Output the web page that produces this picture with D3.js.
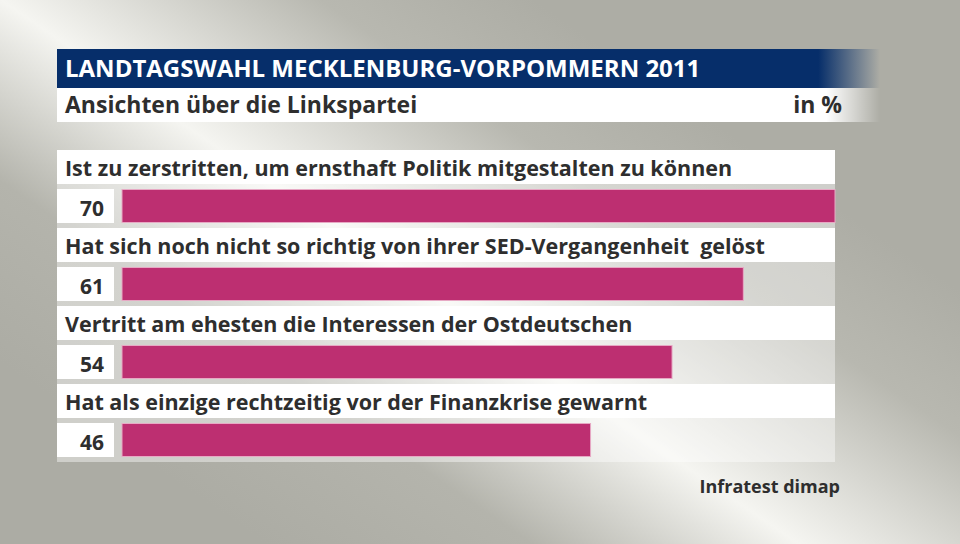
<!DOCTYPE html>
<html>
<head>
<meta charset="utf-8">
<script src="https://cdn.jsdelivr.net/npm/d3@7"></script>
<style>
  body { margin: 0; }
  svg { display: block; }
  text { font-family: "Open Sans", Lato, sans-serif; font-weight: 700; white-space: pre; }
</style>
</head>
<body>
<div id="chart"></div>
<script>
// chart data
var title = "LANDTAGSWAHL MECKLENBURG-VORPOMMERN 2011";
var subtitle = "Ansichten über die Linkspartei";
var unit = "in %";
var source = "Infratest dimap";
var categories = [
  "Ist zu zerstritten, um ernsthaft Politik mitgestalten zu können",
  "Hat sich noch nicht so richtig von ihrer SED-Vergangenheit  gelöst",
  "Vertritt am ehesten die Interessen der Ostdeutschen",
  "Hat als einzige rechtzeitig vor der Finanzkrise gewarnt"
];
var values = [70, 61, 54, 46];

var width = 960, height = 544;

var svg = d3.select("#chart")
  .append("svg")
  .attr("width", width)
  .attr("height", height);

var defs = svg.append("defs");

// background: light diagonal band, grey towards top-right and bottom-left
var bg = defs.append("linearGradient")
  .attr("id", "bg")
  .attr("gradientUnits", "userSpaceOnUse")
  .attr("x1", 231).attr("y1", 520)
  .attr("x2", 569).attr("y2", 24);
[[0, "#acaca4"], [0.25, "#b4b4ac"], [0.5, "#f5f5f1"], [0.8, "#b8b8b0"], [1, "#adada5"]]
  .forEach(function (s) {
    bg.append("stop").attr("offset", s[0]).attr("stop-color", s[1]);
  });

// fading header bars
function fade(id, color, start) {
  var g = defs.append("linearGradient").attr("id", id);
  g.append("stop").attr("offset", 0).attr("stop-color", color);
  g.append("stop").attr("offset", start).attr("stop-color", color);
  g.append("stop").attr("offset", 1).attr("stop-color", color).attr("stop-opacity", 0);
}
fade("titleFade", "#062e6a", 0.925);
fade("subFade", "#ffffff", 0.935);

svg.append("rect")
  .attr("width", width)
  .attr("height", height)
  .attr("fill", "url(#bg)");

// header
svg.append("rect")
  .attr("x", 57).attr("y", 49)
  .attr("width", 823).attr("height", 39)
  .attr("fill", "url(#titleFade)");
svg.append("rect")
  .attr("x", 57).attr("y", 88)
  .attr("width", 823).attr("height", 34)
  .attr("fill", "url(#subFade)");

svg.append("text")
  .attr("x", 65).attr("y", 77)
  .attr("font-size", 24)
  .attr("fill", "#ffffff")
  .text(title);
svg.append("text")
  .attr("x", 65).attr("y", 113)
  .attr("font-size", 23)
  .attr("fill", "#2e2e2e")
  .text(subtitle);
svg.append("text")
  .attr("x", 842).attr("y", 113)
  .attr("text-anchor", "end")
  .attr("font-size", 23)
  .attr("fill", "#2e2e2e")
  .text(unit);

// scales
var x = d3.scaleLinear().domain([0, 70]).range([122, 835]);
var y = d3.scaleBand().domain(categories).range([150, 462]);

var rows = svg.selectAll(".row")
  .data(categories.map(function (c, i) { return { label: c, value: values[i] }; }))
  .enter()
  .append("g")
  .attr("class", "row")
  .attr("transform", function (d) { return "translate(0," + y(d.label) + ")"; });

// light backing behind the value line
rows.append("rect")
  .attr("x", 57).attr("y", 34)
  .attr("width", 778).attr("height", 44)
  .attr("fill", "#ffffff")
  .attr("fill-opacity", 0.42);

// label strip
rows.append("rect")
  .attr("x", 57).attr("y", 0)
  .attr("width", 778).attr("height", 34)
  .attr("fill", "#ffffff");

rows.append("text")
  .attr("x", 65).attr("y", 26)
  .attr("font-size", 21.5)
  .attr("fill", "#2e2e2e")
  .text(function (d) { return d.label; });

// value box
rows.append("rect")
  .attr("x", 57).attr("y", 39)
  .attr("width", 57).attr("height", 34)
  .attr("fill", "#ffffff");

rows.append("text")
  .attr("x", 104).attr("y", 66)
  .attr("text-anchor", "end")
  .attr("font-size", 21)
  .attr("fill", "#2e2e2e")
  .text(function (d) { return d.value; });

// bars
rows.append("rect")
  .attr("x", x(0))
  .attr("y", 39.5)
  .attr("width", function (d) { return x(d.value) - x(0); })
  .attr("height", 33)
  .attr("fill", "#bd2f71")
  .attr("stroke", "#e7a9c4")
  .attr("stroke-width", 1);

svg.append("text")
  .attr("x", 840).attr("y", 493)
  .attr("text-anchor", "end")
  .attr("font-size", 18)
  .attr("fill", "#2e2e2e")
  .text(source);
</script>
</body>
</html>
